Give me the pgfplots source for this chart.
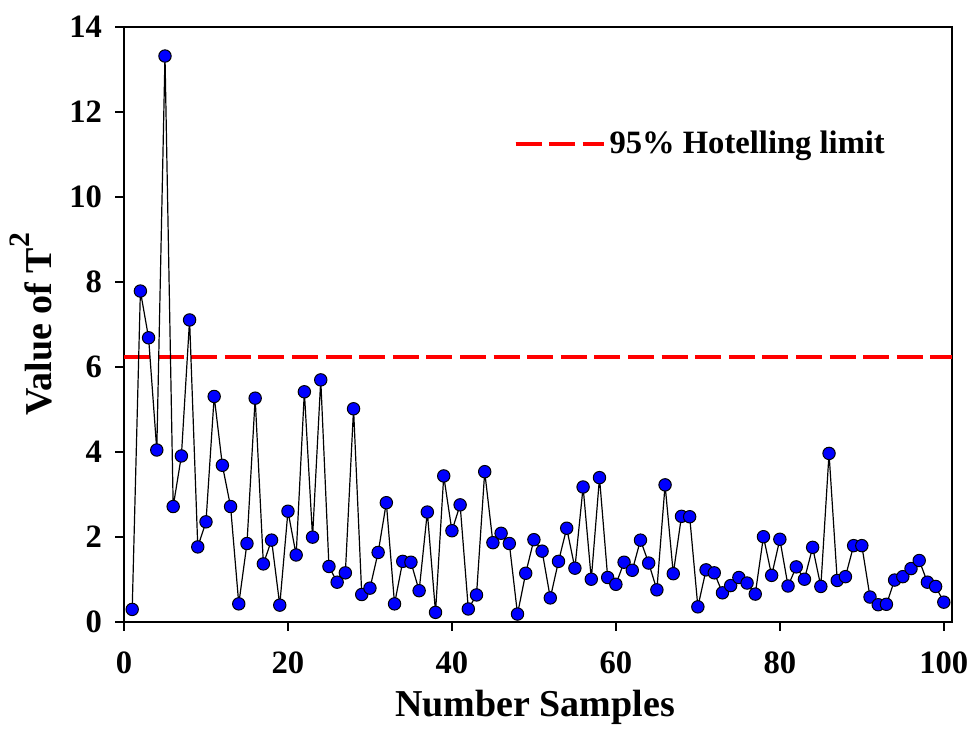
\documentclass[border=0pt]{standalone}
\usepackage{graphicx}
\usepackage{pgfplots}
\pgfplotsset{compat=1.18}
\usepackage{fontspec}
\setmainfont{Liberation Serif}
\newcommand{\supertwo}{\raisebox{0.6em}{\scalebox{0.78}{\bfseries 2}}}
\begin{document}
\begin{tikzpicture}
\path[use as bounding box] (-62pt,-54.15pt) rectangle (424pt,310.85pt);
\begin{axis}[
  at={(0,0)}, anchor=south west,
  scale only axis, width=414pt, height=297.5pt,
  xmin=0, xmax=101, ymin=0, ymax=14,
  xtick={0,20,...,100}, ytick={0,2,...,14},
  tick pos=left, tick align=outside,
  major tick length=4.5pt,
  every tick/.style={black, line width=0.8pt},
  axis line style={line width=0.8pt},
  /pgf/number format/assume math mode=true,
  tick label style={font=\fontsize{16.3}{19}\selectfont\bfseries},
  xticklabel shift=7pt,
  yticklabel shift=3pt,
  label style={font=\fontsize{19}{22}\selectfont\bfseries},
  xlabel={Number Samples},
  xlabel style={at={(axis description cs:0.4964,-0.1597)}, anchor=base},
  ylabel={Value of T\supertwo},
  ylabel style={at={(axis description cs:-0.0870,0.5)}, anchor=base, rotate=0},
  legend style={draw=none, fill=none, at={(rel axis cs:0.47,0.803)}, anchor=west,
    font=\fontsize{16.3}{19}\selectfont\bfseries, inner sep=0pt},
  legend image code/.code={\draw[#1] (0pt,0pt) -- (38pt,0pt); \path (0pt,0pt) -- (44pt,0pt);},
]
\addplot[red, line width=2pt, dash pattern=on 13pt off 3.8pt] coordinates {(0,6.24) (101,6.24)};
\addlegendentry{95\% Hotelling limit}
\addplot[black, line width=0.6pt, mark=*, mark size=3.1pt,
  mark options={fill=blue, draw=black, line width=0.5pt}, forget plot] coordinates {
(1,0.29) (2,7.78) (3,6.68) (4,4.04) (5,13.31) (6,2.71) (7,3.90) (8,7.10) (9,1.76) (10,2.35)
(11,5.30) (12,3.68) (13,2.71) (14,0.42) (15,1.84) (16,5.26) (17,1.36) (18,1.92) (19,0.39) (20,2.60)
(21,1.57) (22,5.41) (23,1.99) (24,5.69) (25,1.30) (26,0.93) (27,1.15) (28,5.01) (29,0.64) (30,0.79)
(31,1.63) (32,2.80) (33,0.42) (34,1.42) (35,1.40) (36,0.73) (37,2.58) (38,0.22) (39,3.43) (40,2.14)
(41,2.75) (42,0.30) (43,0.63) (44,3.53) (45,1.86) (46,2.08) (47,1.84) (48,0.18) (49,1.14) (50,1.93)
(51,1.66) (52,0.56) (53,1.42) (54,2.20) (55,1.26) (56,3.17) (57,1.00) (58,3.39) (59,1.04) (60,0.88)
(61,1.40) (62,1.21) (63,1.92) (64,1.38) (65,0.75) (66,3.22) (67,1.13) (68,2.48) (69,2.47) (70,0.35)
(71,1.22) (72,1.15) (73,0.68) (74,0.85) (75,1.04) (76,0.91) (77,0.65) (78,2.00) (79,1.09) (80,1.94)
(81,0.84) (82,1.29) (83,1.00) (84,1.75) (85,0.83) (86,3.96) (87,0.97) (88,1.06) (89,1.79) (90,1.79)
(91,0.58) (92,0.40) (93,0.41) (94,0.98) (95,1.06) (96,1.25) (97,1.44) (98,0.93) (99,0.83) (100,0.46)
};
\end{axis}
\end{tikzpicture}
\end{document}
